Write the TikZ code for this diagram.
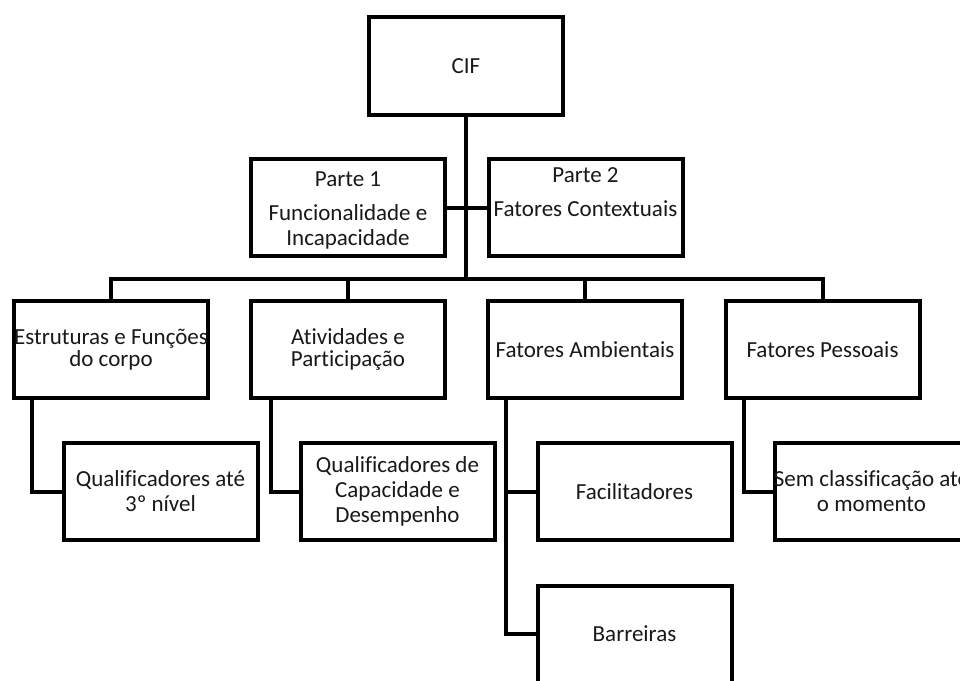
\documentclass[tikz,border=0pt]{standalone}
\usepackage{fontspec}
\setmainfont[Ligatures=NoCommon]{Carlito}
\begin{document}
\begin{tikzpicture}[x=1pt,y=-1pt,
  box/.style={draw=black, line width=4pt, fill=white, minimum width=194pt, minimum height=97pt, inner sep=0pt},
  txt/.style={align=center, font=\fontsize{23}{25}\selectfont, inner sep=0pt, text=black!90},
  conn/.style={line width=4pt}]
\clip (0,0) rectangle (960,680);
\fill[white] (0,0) rectangle (960,680);
% boxes
\node[box, minimum height=98pt] (cif) at (466,66) {};
\node[box] (p1) at (348,207.5) {};
\node[box] (p2) at (585.5,207.5) {};
\node[box] (e1) at (111,349.5) {};
\node[box] (e2) at (348,349.5) {};
\node[box] (e3) at (585,349.5) {};
\node[box] (e4) at (822.5,349.5) {};
\node[box] (q1) at (160.5,491.5) {};
\node[box] (q2) at (397.5,491.5) {};
\node[box] (fac) at (634.5,491.5) {};
\node[box] (sem) at (871.5,491.5) {};
\node[box] (barr) at (634.5,634) {};
% connectors
\coordinate (bus) at (466,279);
\draw[conn] (cif.south) -- (bus);
\draw[conn] (p1.east) -- (p2.west);
\draw[conn] (e1.north) |- (bus) -| (e4.north);
\draw[conn] (e2.north) -- (e2.north |- bus);
\draw[conn] (e3.north) -- (e3.north |- bus);
\draw[conn] ([xshift=20pt]e1.south west) |- (q1.west);
\draw[conn] ([xshift=22pt]e2.south west) |- (q2.west);
\draw[conn] ([xshift=20pt]e3.south west) |- (fac.west);
\draw[conn] ([xshift=20pt]e3.south west) |- (barr.west);
\draw[conn] ([xshift=20pt]e4.south west) |- (sem.west);
% texts
\node[txt] (tcif) at (cif.center) {CIF};
\node[txt] (tp1) at ([yshift=-2.5pt]p1.center) {Parte 1\\[9pt]Funcionalidade e\\Incapacidade};
\node[txt] (tp2) at ([yshift=15pt]p2.center) {Parte 2\\[9pt]Fatores Contextuais};
\node[txt] (te1) at (e1.center) {Estruturas e Funções\\[-2.5pt]do corpo};
\node[txt] (te2) at (e2.center) {Atividades e\\[-2.5pt]Participação};
\node[txt] (te3) at (e3.center) {Fatores Ambientais};
\node[txt] (te4) at (e4.center) {Fatores Pessoais};
\node[txt] (tq1) at (q1.center) {Qualificadores até\\3º nível};
\node[txt] (tq2) at (q2.center) {Qualificadores de\\Capacidade e\\Desempenho};
\node[txt] (tfac) at (fac.center) {Facilitadores};
\node[txt] (tsem) at (sem.center) {Sem classificação até\\o momento};
\node[txt] (tbarr) at (barr.center) {Barreiras};
\end{tikzpicture}
\end{document}
